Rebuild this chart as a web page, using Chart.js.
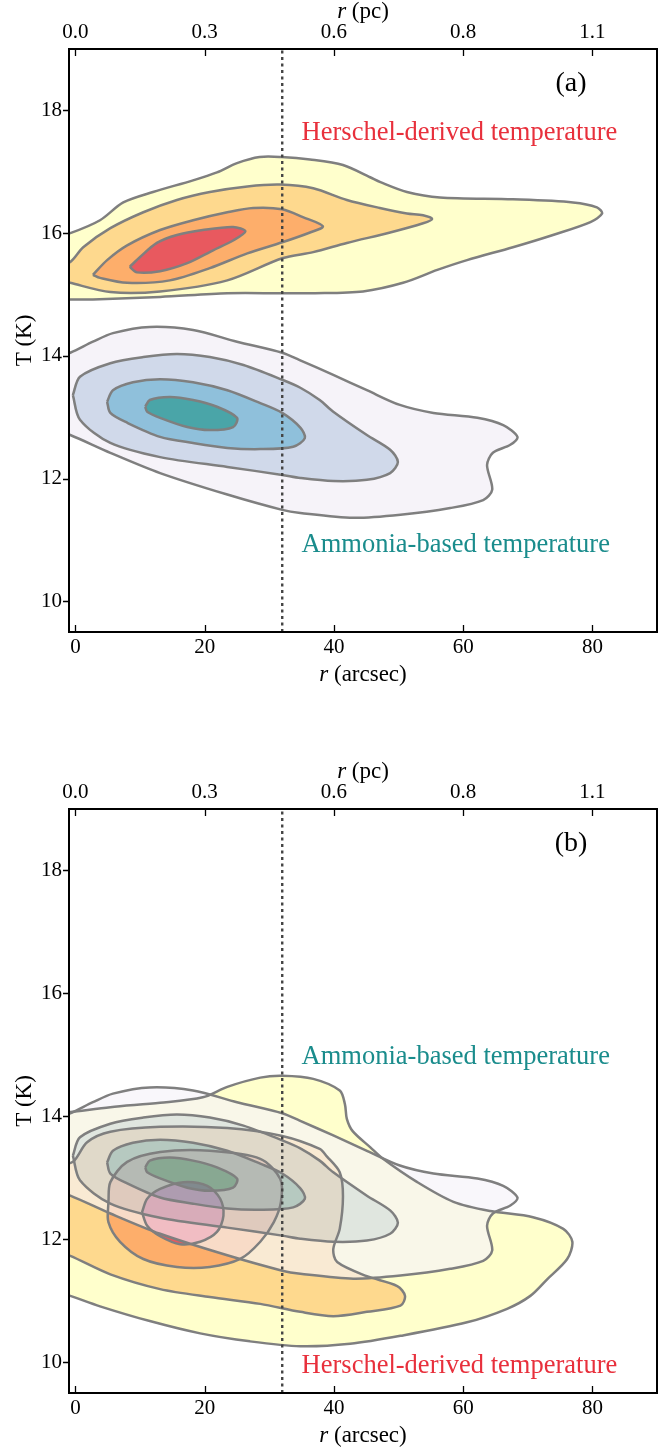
<!DOCTYPE html>
<html>
<head>
<meta charset="utf-8">
<script src="https://cdn.jsdelivr.net/npm/chart.js@4.4.1/dist/chart.umd.min.js"></script>
<style>
  body { margin: 0; background: #fff; }
  canvas { position: absolute; left: 0; }
</style>
</head>
<body>
<canvas id="panelA" width="671" height="722" style="top:0px"></canvas>
<canvas id="panelB" width="671" height="725" style="top:722px"></canvas>
<script>
// Axis ticks
const arcsecTicks = [0, 20, 40, 60, 80];
const pcTickLabels = ['0.0', '0.3', '0.6', '0.8', '1.1'];
const tempTicks = [10, 12, 14, 16, 18];
const beamRadius = 32;

// Herschel contours, panel (a), outer -> inner, [r arcsec, T K]
const herschelA1 = [[-3,15.95],[-0.8,16.0],[3.8,16.21],[7.4,16.5],[12.0,16.67],[18.2,16.86],[21.9,16.99],[25.0,17.14],[28.5,17.24],[31.9,17.24],[36.3,17.2],[41.4,17.11],[45.6,16.91],[47.2,16.83],[51.3,16.67],[56.4,16.58],[67.7,16.55],[77.0,16.5],[80.7,16.42],[81.5,16.32],[79.7,16.18],[73.9,15.97],[67.7,15.77],[60.6,15.56],[56.0,15.4],[50.7,15.19],[44.5,15.05],[36.8,15.02],[31.7,15.02],[23.5,15.02],[13.1,14.96],[2.7,14.92],[-0.8,14.92],[-3,14.92]];
const herschelA2 = [[-3,15.45],[-0.8,15.53],[1.2,15.77],[5.4,16.08],[10.5,16.34],[15.7,16.54],[20.8,16.67],[26.6,16.76],[31.7,16.79],[36.8,16.73],[42.0,16.54],[47.1,16.41],[51.3,16.32],[53.8,16.29],[55.2,16.23],[53.8,16.16],[48.7,16.01],[42.0,15.84],[36.8,15.69],[32.0,15.59],[23.5,15.23],[13.1,15.05],[5.4,15.04],[-0.8,15.19],[-3,15.25]];
const herschelA3 = [[2.7,15.32],[4.9,15.56],[8.0,15.8],[13.1,16.05],[18.2,16.21],[23.5,16.34],[27.5,16.41],[32.0,16.39],[35.2,16.26],[38.3,16.11],[36.3,16.01],[32.0,15.85],[26.6,15.67],[20.8,15.43],[14.6,15.23],[8.0,15.19],[3.8,15.27]];
const herschelA4 = [[8.4,15.45],[10.0,15.61],[12.6,15.84],[15.7,15.97],[19.7,16.05],[24.4,16.1],[26.3,16.03],[24.4,15.88],[21.3,15.72],[17.3,15.51],[13.1,15.38],[9.5,15.36]];

// Herschel contours, panel (b)
const herschelB1 = [[-3,14.05],[-0.8,14.07],[5.4,14.15],[13.1,14.22],[19.7,14.31],[23.5,14.48],[28.6,14.63],[32.0,14.66],[36.8,14.61],[40.9,14.42],[41.7,14.2],[42.0,13.96],[42.9,13.76],[45.6,13.5],[47.6,13.31],[52.9,12.93],[58.5,12.61],[64.2,12.46],[70.8,12.36],[75.5,12.17],[76.9,11.96],[76.1,11.68],[73.0,11.35],[70.4,11.08],[66.8,10.87],[60.6,10.65],[50.3,10.43],[42.5,10.3],[34.8,10.26],[27.0,10.34],[19.3,10.47],[11.5,10.67],[3.8,10.91],[-0.8,11.08],[-3,11.15]];
const herschelB2 = [[-3,13.2],[-0.4,13.26],[1.8,13.58],[5.4,13.75],[13.1,13.83],[23.5,13.81],[32.0,13.68],[37.8,13.47],[38.9,13.35],[40.9,13.09],[41.4,12.7],[40.9,12.17],[39.9,11.84],[40.5,11.63],[45.1,11.4],[49.8,11.24],[51.0,11.08],[50.3,10.92],[45.1,10.82],[39.9,10.75],[34.8,10.82],[28.6,10.95],[20.8,11.06],[13.1,11.19],[5.4,11.43],[-0.8,11.73],[-3,11.8]];
const herschelB3 = [[5.1,12.61],[5.4,12.93],[8.0,13.26],[13.1,13.42],[20.8,13.44],[28.6,13.31],[31.7,12.98],[31.8,12.61],[30.7,12.28],[28.6,11.96],[25.5,11.68],[20.8,11.55],[15.7,11.55],[10.5,11.68],[6.9,11.96],[5.1,12.28]];
const herschelB4 = [[10.3,12.44],[11.1,12.66],[13.1,12.82],[16.7,12.93],[20.4,12.87],[22.4,12.66],[22.9,12.38],[21.9,12.12],[19.3,11.96],[16.2,11.92],[13.1,12.05],[11.1,12.22]];

// Ammonia contours (same in both panels)
const ammonia1 = [[-3,13.98],[-0.8,14.05],[2.7,14.23],[5.8,14.37],[11.5,14.47],[18.2,14.42],[25.0,14.23],[32.0,14.05],[34.7,13.93],[39.9,13.69],[45.1,13.44],[50.2,13.2],[55.4,13.07],[62.2,12.99],[66.2,12.87],[68.4,12.68],[67.3,12.55],[64.6,12.42],[63.7,12.22],[64.5,11.82],[63.1,11.65],[58.0,11.52],[50.3,11.41],[43.0,11.36],[34.8,11.44],[32.0,11.49],[23.5,11.74],[13.1,12.09],[5.4,12.42],[-0.8,12.71],[-3,12.78]];
const ammonia2 = [[-0.4,13.36],[0.7,13.66],[5.4,13.88],[10.5,13.98],[15.7,14.03],[20.8,13.98],[26.0,13.85],[32.0,13.61],[34.8,13.48],[37.8,13.28],[39.9,13.09],[45.1,12.71],[48.7,12.47],[49.9,12.27],[48.7,12.09],[45.1,11.98],[39.9,11.96],[34.8,12.01],[32.0,12.06],[23.5,12.19],[13.1,12.35],[5.4,12.58],[0.7,12.96]];
const ammonia3 = [[4.9,13.25],[5.8,13.44],[8.9,13.57],[13.1,13.62],[18.2,13.57],[23.5,13.44],[28.6,13.23],[32.0,13.07],[34.8,12.83],[35.5,12.66],[33.7,12.52],[28.6,12.48],[23.5,12.5],[18.2,12.58],[13.1,12.68],[8.0,12.91],[5.4,13.07]];
const ammonia4 = [[10.8,13.17],[11.5,13.28],[14.6,13.33],[18.2,13.28],[21.9,13.17],[25.0,12.99],[24.4,12.84],[20.8,12.79],[17.3,12.84],[13.1,12.99],[11.1,13.09]];

const herschelColors = ['#ffffcc', '#fed98e', '#fdae6b', '#e8595f'];
const ammoniaColors = ['#f6f3f9', '#d0d9ea', '#8fc0db', '#4aa5a8'];

const FONT = "'Liberation Serif', 'DejaVu Serif', serif";
const xMin = -1, xMax = 90, yMin = 9.5, yMax = 19;

function signedArea(r) {
    let a = 0;
    for (let i = 0; i < r.length; i++) {
        const p = r[i], q = r[(i + 1) % r.length];
        a += p[0] * q[1] - q[0] * p[1];
    }
    return a / 2;
}
function oriented(r, ccw) {
    return (signedArea(r) > 0) === ccw ? r : r.slice().reverse();
}
function toPoints(r) { return r.map(([x, y]) => ({x, y})); }
function closedRing(r) { return toPoints([...r, r[0]]); }
// outer ring with the next ring cut out as a hole
function bandRing(outer, inner) {
    const o = oriented(outer, true), h = oriented(inner, false);
    return toPoints([...o, o[0], ...h, h[0], o[0]]);
}
function hexA(hex, a) {
    const n = parseInt(hex.slice(1), 16);
    return `rgba(${n >> 16},${(n >> 8) & 255},${n & 255},${a})`;
}

function fillSets(rings, colors, alpha) {
    return rings.map((ring, k) => ({
        data: k < rings.length - 1 ? bandRing(ring, rings[k + 1]) : closedRing(ring),
        fill: 'shape',
        backgroundColor: hexA(colors[k], alpha),
        borderWidth: 0,
        borderColor: 'rgba(0,0,0,0)',
        tension: 0.3
    }));
}
function lineSets(rings) {
    return rings.map(ring => ({
        data: closedRing(ring),
        fill: false,
        borderColor: '#7f7f7f',
        borderWidth: 2.5,
        tension: 0.3
    }));
}

const decor = {
    id: 'decor',
    afterDraw(chart, args, opts) {
        const {ctx, chartArea: a} = chart;
        const sx = chart.scales.x, sy = chart.scales.y;
        ctx.save();
        ctx.strokeStyle = '#000';
        ctx.lineWidth = 1.3;
        ctx.beginPath();
        arcsecTicks.forEach(v => {
            const px = Math.round(sx.getPixelForValue(v)) + 0.5;
            ctx.moveTo(px, a.bottom); ctx.lineTo(px, a.bottom - 7);
            ctx.moveTo(px, a.top); ctx.lineTo(px, a.top + 7);
        });
        tempTicks.forEach(v => {
            const py = Math.round(sy.getPixelForValue(v)) + 0.5;
            ctx.moveTo(a.left, py); ctx.lineTo(a.left - 6, py);
        });
        ctx.stroke();
        ctx.lineWidth = 2;
        ctx.strokeRect(a.left, a.top, a.right - a.left, a.bottom - a.top);

        // axis titles, italic r
        ctx.fillStyle = '#000';
        ctx.textBaseline = 'middle';
        const cx = (a.left + a.right) / 2;
        const mixed = (unit, y) => {
            ctx.font = `italic 23px ${FONT}`;
            const w1 = ctx.measureText('r').width;
            ctx.font = `23px ${FONT}`;
            const w2 = ctx.measureText(unit).width;
            const x0 = cx - (w1 + w2) / 2;
            ctx.textAlign = 'left';
            ctx.font = `italic 23px ${FONT}`;
            ctx.fillText('r', x0, y);
            ctx.font = `23px ${FONT}`;
            ctx.fillText(unit, x0 + w1, y);
        };
        mixed(' (pc)', a.top - 37);
        mixed(' (arcsec)', a.bottom + 43);

        ctx.save();
        ctx.translate(a.left - 44, (a.top + a.bottom) / 2);
        ctx.rotate(-Math.PI / 2);
        ctx.textAlign = 'center';
        ctx.font = `23px ${FONT}`;
        ctx.fillText('T (K)', 0, 0);
        ctx.restore();

        opts.labels.forEach(l => {
            ctx.font = `${l.size}px ${FONT}`;
            ctx.fillStyle = l.color;
            ctx.textAlign = l.align;
            ctx.fillText(l.text, sx.getPixelForValue(l.x), sy.getPixelForValue(l.y));
        });
        ctx.restore();
    }
};

function makePanel(id, sets, layout, labels) {
    const beamLine = {
        data: [{x: beamRadius, y: yMin}, {x: beamRadius, y: yMax}],
        fill: false,
        borderColor: '#444',
        borderWidth: 2.4,
        borderDash: [3, 3.5]
    };
    const drawOrder = [...sets, beamLine];
    const tickFont = {family: FONT, size: 21};
    const fixedTicks = s => { s.ticks = arcsecTicks.map(v => ({value: v})); };
    new Chart(document.getElementById(id), {
        type: 'line',
        data: {datasets: drawOrder.reverse()},
        options: {
            responsive: false,
            animation: false,
            devicePixelRatio: 1,
            layout: {padding: {left: 0, right: 14, top: 0, bottom: 0}},
            elements: {point: {radius: 0}},
            plugins: {legend: {display: false}, tooltip: {enabled: false}, decor: {labels}},
            scales: {
                x: {
                    type: 'linear', position: 'bottom', min: xMin, max: xMax,
                    afterBuildTicks: fixedTicks,
                    afterFit: s => { s.height = layout.bottomBox; },
                    grid: {display: false, drawTicks: false},
                    border: {display: false},
                    ticks: {padding: 3, color: '#000', font: tickFont, maxRotation: 0, callback: v => String(v)}
                },
                xTop: {
                    type: 'linear', axis: 'x', position: 'top', min: xMin, max: xMax,
                    afterBuildTicks: fixedTicks,
                    afterFit: s => { s.height = layout.topBox; },
                    grid: {display: false, drawTicks: false},
                    border: {display: false},
                    ticks: {padding: 4, color: '#000', font: tickFont, maxRotation: 0,
                        callback: v => pcTickLabels[arcsecTicks.indexOf(v)]}
                },
                y: {
                    type: 'linear', position: 'left', min: yMin, max: yMax,
                    afterBuildTicks: s => { s.ticks = tempTicks.map(v => ({value: v})); },
                    afterFit: s => { s.width = 69; },
                    grid: {display: false, drawTicks: false},
                    border: {display: false},
                    ticks: {padding: 7, color: '#000', font: tickFont}
                }
            }
        },
        plugins: [decor]
    });
}

const herschelRedText = '#e8303c';
const ammoniaTealText = '#1a8c8c';

makePanel('panelA', [
    ...fillSets([herschelA1, herschelA2, herschelA3, herschelA4], herschelColors, 1),
    ...fillSets([ammonia1, ammonia2, ammonia3, ammonia4], ammoniaColors, 1),
    ...lineSets([herschelA1, herschelA2, herschelA3, herschelA4]),
    ...lineSets([ammonia1, ammonia2, ammonia3, ammonia4])
], {topBox: 49, bottomBox: 90}, [
    {text: 'Herschel-derived temperature', x: 35, y: 17.63, color: herschelRedText, size: 26.5, align: 'left'},
    {text: 'Ammonia-based temperature', x: 35, y: 10.92, color: ammoniaTealText, size: 26.5, align: 'left'},
    {text: '(a)', x: 76.7, y: 18.44, color: '#000', size: 28, align: 'center'}
]);

makePanel('panelB', [
    ...fillSets([herschelB1, herschelB2, herschelB3, herschelB4], herschelColors, 1),
    ...fillSets([ammonia1, ammonia2, ammonia3, ammonia4], ammoniaColors, 0.65),
    ...lineSets([herschelB1, herschelB2, herschelB3, herschelB4]),
    ...lineSets([ammonia1, ammonia2, ammonia3, ammonia4])
], {topBox: 87, bottomBox: 54}, [
    {text: 'Ammonia-based temperature', x: 35, y: 14.97, color: ammoniaTealText, size: 26.5, align: 'left'},
    {text: 'Herschel-derived temperature', x: 35, y: 9.94, color: herschelRedText, size: 26.5, align: 'left'},
    {text: '(b)', x: 76.7, y: 18.43, color: '#000', size: 28, align: 'center'}
]);
</script>
</body>
</html>
